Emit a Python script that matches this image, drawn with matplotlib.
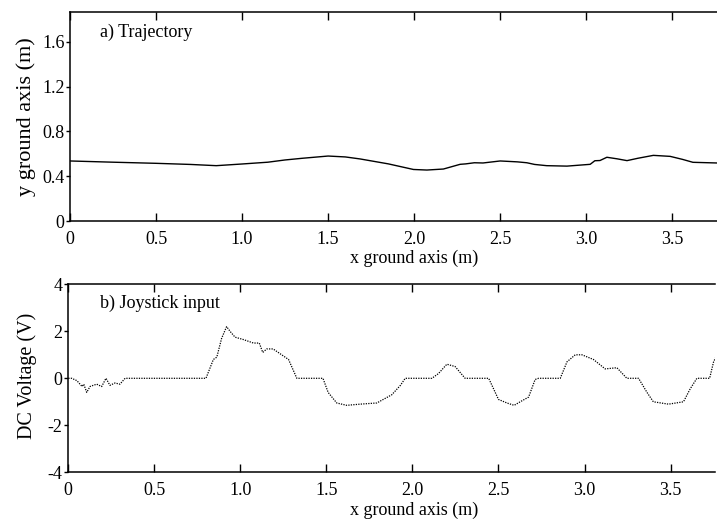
import matplotlib
matplotlib.use("Agg")
import matplotlib.pyplot as plt

plt.rcParams['font.family'] = ['Liberation Serif', 'DejaVu Serif']
plt.rcParams['axes.unicode_minus'] = False

# a) trajectory
traj_x = [0.0, 0.25, 0.5, 0.7, 0.85, 1.0, 1.15, 1.25, 1.35, 1.5, 1.6, 1.686, 1.85, 1.996, 2.074, 2.17,
          2.267, 2.30, 2.35, 2.40, 2.5, 2.60, 2.655, 2.70, 2.77, 2.888, 3.023, 3.05, 3.08, 3.12,
          3.18, 3.237, 3.30, 3.39, 3.488, 3.56, 3.62, 3.76]
traj_y = [0.536, 0.525, 0.515, 0.505, 0.494, 0.509, 0.525, 0.545, 0.56, 0.58, 0.572, 0.554, 0.51, 0.46,
          0.455, 0.464, 0.506, 0.51, 0.52, 0.518, 0.536, 0.528, 0.52, 0.505, 0.494, 0.49, 0.506,
          0.538, 0.54, 0.569, 0.555, 0.539, 0.56, 0.586, 0.577, 0.55, 0.524, 0.518]

# b) joystick input
joy_x = [0.0, 0.02, 0.05, 0.08, 0.09, 0.107, 0.126, 0.145, 0.165, 0.194, 0.219, 0.242, 0.271, 0.3,
         0.33, 0.8, 0.843, 0.863, 0.891, 0.92, 0.94, 0.969, 1.017, 1.076, 1.11, 1.13, 1.153, 1.19,
         1.24, 1.28, 1.328, 1.48, 1.51, 1.56, 1.618, 1.696, 1.793, 1.88, 1.93, 1.958, 2.113, 2.151,
         2.2, 2.248, 2.306, 2.443, 2.5, 2.549, 2.591, 2.626, 2.675, 2.713, 2.733, 2.859, 2.898,
         2.946, 2.985, 3.052, 3.12, 3.188, 3.246, 3.314, 3.363, 3.4, 3.488, 3.575, 3.614, 3.653,
         3.727, 3.75, 3.77]
joy_v = [0.0, 0.0, -0.1, -0.35, -0.25, -0.6, -0.35, -0.3, -0.25, -0.35, 0.0, -0.3, -0.2, -0.25,
         0.0, 0.0, 0.8, 0.9, 1.7, 2.2, 2.0, 1.75, 1.65, 1.5, 1.5, 1.1, 1.25, 1.25,
         1.0, 0.8, 0.0, 0.0, -0.6, -1.05, -1.15, -1.1, -1.05, -0.7, -0.3, 0.0, 0.0, 0.2,
         0.6, 0.5, 0.0, 0.0, -0.9, -1.05, -1.15, -1.0, -0.8, -0.05, 0.0, 0.0, 0.7,
         1.0, 1.0, 0.8, 0.4, 0.45, 0.0, 0.0, -0.6, -1.0, -1.1, -1.0, -0.45, 0.0,
         0.0, 0.7, 1.0]

xticks = [0, 0.5, 1.0, 1.5, 2.0, 2.5, 3.0, 3.5]
xticklabels = ['0', '0.5', '1.0', '1.5', '2.0', '2.5', '3.0', '3.5']
yticks_a = [0, 0.4, 0.8, 1.2, 1.6]
yticklabels_a = ['0', '0.4', '0.8', '1.2', '1.6']
yticks_b = [-4, -2, 0, 2, 4]
yticklabels_b = ['-4', '-2', '0', '2', '4']

fig = plt.figure(figsize=(7.17, 5.2), dpi=100)
ax1 = fig.add_axes([70/717, 1-221/520, 647/717, 209/520])
ax2 = fig.add_axes([68.3/717, 1-472.3/520, 647/717, 188/520])

fs = 13

def style(ax):
    for s in ['left', 'top', 'bottom']:
        ax.spines[s].set_linewidth(1.1)
    ax.spines['right'].set_visible(False)
    ax.set_xlim(0, 3.76)
    ax.set_xticks(xticks)
    ax.set_xticklabels(xticklabels, fontsize=fs)
    ax.tick_params(axis='x', direction='in', top=True, bottom=True, length=6, width=1.0, pad=7)
    ax.tick_params(axis='y', direction='out', length=3, width=1.0, pad=1, labelsize=fs)
    ax.set_xlabel('x ground axis (m)', fontsize=13, labelpad=4)
    ax.xaxis.set_label_coords(344/647, -0.0, transform=None)

ax1.plot(traj_x, traj_y, color='black', lw=1.0)
style(ax1)
ax1.set_ylim(0, 1.866)
ax1.set_yticks(yticks_a)
ax1.set_yticklabels(yticklabels_a)
ax1.set_ylabel('y ground axis (m)', fontsize=16)
ax1.yaxis.set_label_coords(26/717, 1-117/520, transform=fig.transFigure)
ax1.xaxis.set_label_coords(414/717, 1-258.5/520, transform=fig.transFigure)
ax1.text(100/717, 1-32/520, 'a) Trajectory', transform=fig.transFigure, fontsize=fs, va='center', ha='left')

ax2.plot(joy_x, joy_v, color='black', lw=0.9, linestyle=(0, (1, 1)))
style(ax2)
ax2.set_ylim(-4, 4)
ax2.set_yticks(yticks_b)
ax2.set_yticklabels(yticklabels_b)
ax2.set_ylabel('DC Voltage (V)', fontsize=14.5)
ax2.yaxis.set_label_coords(27/717, 1-376/520, transform=fig.transFigure)
ax2.xaxis.set_label_coords(414/717, 1-510.5/520, transform=fig.transFigure)
ax2.text(100/717, 1-303/520, 'b) Joystick input', transform=fig.transFigure, fontsize=fs, va='center', ha='left')

for ax in (ax1, ax2):
    ax.xaxis.label.set_va('center')
    ax.yaxis.label.set_va('center')

fig.savefig('out.png', dpi=100)
